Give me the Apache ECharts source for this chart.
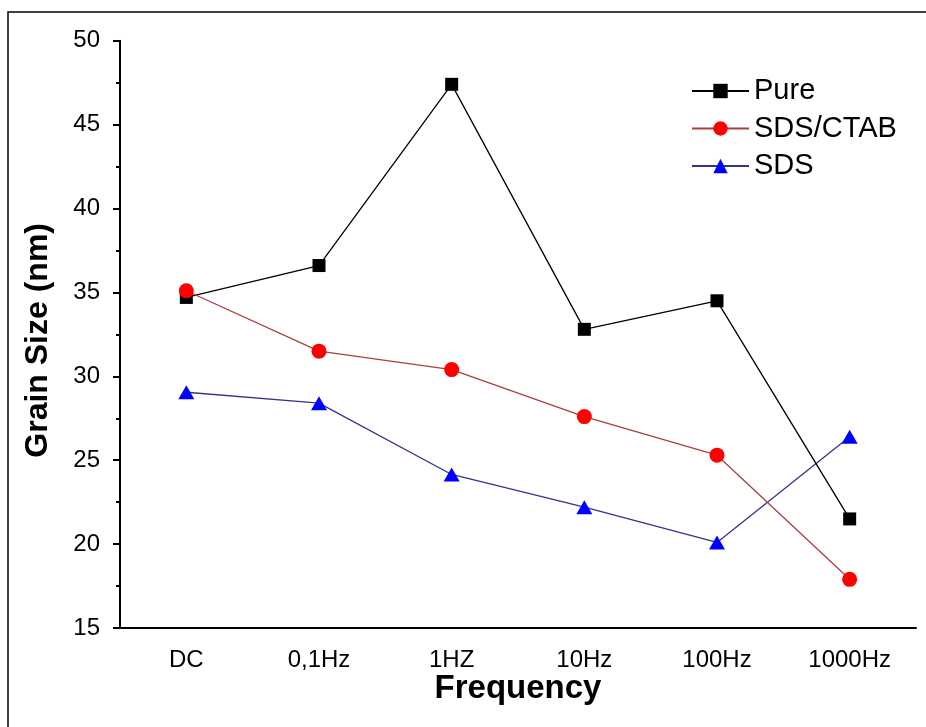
<!DOCTYPE html>
<html>
<head>
<meta charset="utf-8">
<title>Grain Size vs Frequency</title>
<script src="https://cdn.jsdelivr.net/npm/echarts@6/dist/echarts.min.js"></script>
<style>
  html, body { margin: 0; padding: 0; background: #fff; }
  #chart { width: 926px; height: 727px; }
</style>
</head>
<body>
<div id="chart"></div>
<script>
// Deposition frequency categories
const categories = ['DC', '0,1Hz', '1HZ', '10Hz', '100Hz', '1000Hz'];

// Grain size (nm) per sample type
const pure = [34.7, 36.6, 47.4, 32.8, 34.5, 21.5];
const sdsCtab = [35.1, 31.5, 30.4, 27.6, 25.3, 17.9];
const sds = [29.05, 28.4, 24.15, 22.2, 20.1, 26.4];

// Y-axis range and step
const yMin = 15, yMax = 50, yStep = 5;

const FONT = '"Liberation Sans", Arial, sans-serif';

const chart = echarts.init(document.getElementById('chart'), null, { renderer: 'canvas' });

const axisLineStyle = { color: '#000', width: 2 };

chart.setOption({
  backgroundColor: '#fff',
  animation: false,
  textStyle: { fontFamily: FONT, color: '#000' },
  graphic: [{
    type: 'rect',
    shape: { x: 8, y: 12, width: 940, height: 740 },
    style: { fill: 'none', stroke: '#000', lineWidth: 1.5 },
    silent: true
  }],
  grid: { left: 120, right: 10, top: 40.7, bottom: 99, containLabel: false },
  legend: {
    orient: 'vertical',
    left: 686,
    top: 70,
    itemWidth: 57,
    itemHeight: 18,
    itemGap: 5.5,
    textStyle: { fontFamily: FONT, fontSize: 29, color: '#000', lineHeight: 32 },
    data: ['Pure', 'SDS/CTAB', 'SDS']
  },
  xAxis: [{
    type: 'category',
    data: categories,
    boundaryGap: true,
    name: 'Frequency',
    nameLocation: 'middle',
    nameGap: 44,
    nameMoveOverlap: false,
    nameTextStyle: { fontFamily: FONT, fontSize: 33, fontWeight: 'bold', color: '#000' },
    axisLine: { lineStyle: axisLineStyle },
    axisTick: { alignWithLabel: true, length: 8, lineStyle: axisLineStyle },
    axisLabel: { fontFamily: FONT, fontSize: 24, color: '#000', margin: 20 },
    splitLine: { show: false }
  }, {
    // boundary ticks between categories (short)
    type: 'category',
    data: categories,
    boundaryGap: true,
    position: 'bottom',
    axisLine: { show: false },
    axisTick: { length: 4, lineStyle: axisLineStyle },
    axisLabel: { show: false },
    splitLine: { show: false }
  }],
  yAxis: {
    type: 'value',
    min: yMin,
    max: yMax,
    interval: yStep,
    name: 'Grain Size (nm)',
    nameLocation: 'middle',
    nameGap: 66,
    nameRotate: 90,
    nameMoveOverlap: false,
    nameTextStyle: { fontFamily: FONT, fontSize: 32, fontWeight: 'bold', color: '#000', padding: [0, 12, 0, 0] },
    axisLine: { show: true, lineStyle: axisLineStyle },
    axisTick: { show: true, length: 7, lineStyle: axisLineStyle },
    minorTick: { show: true, splitNumber: 2, length: 4, lineStyle: axisLineStyle },
    axisLabel: { fontFamily: FONT, fontSize: 24, color: '#000', margin: 20 },
    splitLine: { show: false }
  },
  series: [{
    name: 'Pure',
    type: 'line',
    data: pure,
    symbol: 'rect',
    symbolSize: 13,
    itemStyle: { color: '#000' },
    lineStyle: { color: '#000', width: 1.3 },
    z: 3
  }, {
    name: 'SDS/CTAB',
    type: 'line',
    data: sdsCtab,
    symbol: 'circle',
    symbolSize: 15,
    itemStyle: { color: '#ff0000' },
    lineStyle: { color: '#a8403c', width: 1.3 },
    z: 4
  }, {
    name: 'SDS',
    type: 'line',
    data: sds,
    symbol: 'triangle',
    symbolSize: [16, 14],
    itemStyle: { color: '#0000ff' },
    lineStyle: { color: '#34348a', width: 1.3 },
    z: 2
  }]
});
</script>
</body>
</html>
